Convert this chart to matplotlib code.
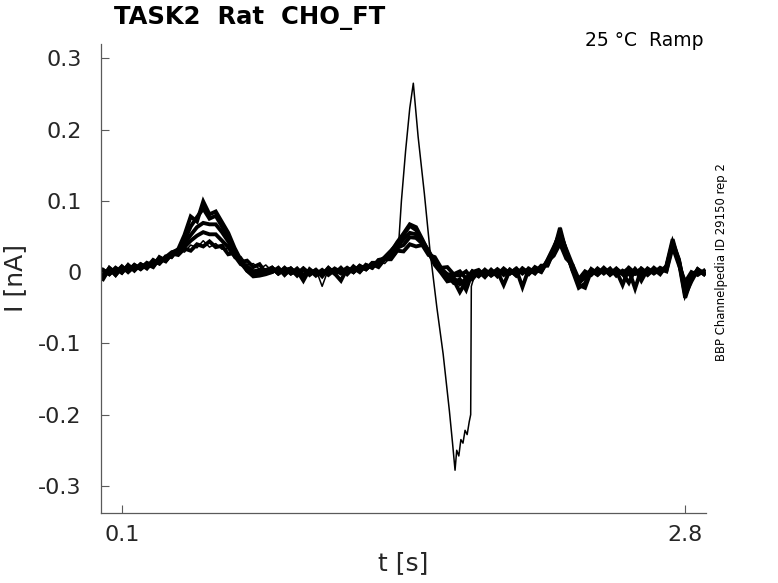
import numpy as np
import matplotlib
matplotlib.use("Agg")
import matplotlib.pyplot as plt

# ---------------- data (currents in pA, converted to nA when drawn) ----------------
# sample times of the small traces [s]
t_start, t_step, n_samp = 0.01, 0.03, 97
T = t_start + t_step * np.arange(n_samp)

# mean ramp current profile [pA]
base = [0, 2, 2, 3, 4, 5, 7, 9, 12, 15,
        18, 22, 26, 30, 34, 37, 39, 39, 37, 34,
        29, 24, 19, 14, 10, 7, 5, 3, 2, 1,
        1, 0, 0, 0, 0, 0, 1, 1, 2, 2,
        3, 4, 6, 8, 11, 15, 20, 26, 32, 37,
        39, 34, 26, 18, 11, 5, 1, -2, -3, -3,
        -2, -2, -1, -1, 0, 0, 0, 1, 1, 2,
        4, 12, 25, 36, 22, 8, -4, -2, 0, 0,
        1, 1, 0, 0, 1, 1, 0, 0, 1, 2,
        5, 32, 12, -8, -3, 0, 0]

# per-sweep deviations from the mean profile [pA]
dev_a = [-4, 3, -6, 4, -2, 5, -3, 2, -5, 4,
         -3, 4, -2, 3, -4, 2, -3, 4, -2, 3,
         -4, 3, -5, 2, -3, 4, -6, 3, -4, 5,
         -3, 2, -12, 4, -3, 3, -5, 2, -4, 3,
         -3, 4, -2, 3, -4, 3, -2, 4, -3, 2,
         -3, 4, -2, 3, -5, 2, -4, 3, -6, 4,
         -3, 5, -4, 2, -18, 3, -4, 4, -3, 2,
         -4, 3, -2, 4, -3, 2, -6, 3, -4, 5,
         -3, 4, -5, 2, -4, 3, -12, 4, -3, 2,
         -4, 3, -2, -6, 3, -4, 2]
dev_b = [3, -5, 4, -3, 5, -2, 4, -4, 3, -3,
         4, 0, 6, 5, 10, 14, 17, 14, 16, 10,
         6, -1, -8, -6, -9, -4, -2, 3, -4, 2,
         4, -3, 5, -2, 3, -6, 4, -3, -14, 3,
         -3, 5, -2, 4, 1, 5, 3, 8, 6, 12,
         9, 6, 2, -3, -6, -8, -5, -3, 4, -7,
         3, -5, 4, -3, 5, -2, 4, -22, 3, -4,
         4, -2, 6, 8, 4, -3, -12, -4, 3, -3,
         4, -5, 3, -2, 5, -3, 4, -4, 3, -2,
         3, 6, 4, -14, -5, 3, -3]
dev_c = [-8, 4, -3, 5, -4, 3, -2, 4, -3, 5,
         -2, 4, 3, 10, 18, 26, 30, 28, 30, 22,
         14, 4, -6, -12, -14, -10, -6, -3, 3, -4,
         3, -5, 4, -3, 2, -4, 5, -3, 4, -5,
         3, -4, 4, -2, 5, 3, 7, 10, 14, 18,
         14, 8, 2, -5, -10, -12, -9, -15, -6, 3,
         -4, 5, -3, 4, -4, 3, -5, 4, -3, 2,
         -3, 5, 10, 18, 10, 2, -14, -20, 2, -4,
         3, -4, 5, -3, 2, -24, 4, -3, 5, -3,
         2, 10, 6, -20, -8, 4, -3]
dev_d = [2, -5, 3, -4, 6, -3, 4, -2, 5, -3,
         3, 6, 4, 14, 30, 40, 50, 36, 42, 30,
         20, 6, -4, -10, -12, -8, -5, 3, -4, 4,
         -3, 5, -4, 3, -5, 2, -3, 4, -2, 4,
         -3, 4, -2, 5, 2, 6, 10, 14, 20, 28,
         20, 10, 4, -4, -8, -10, -16, -8, -22, 3,
         5, -3, 4, -5, 3, -2, 5, -3, 4, -3,
         5, -3, 4, 26, 6, -5, -10, -6, 4, -3,
         5, -3, 4, -2, -16, 3, -4, 5, -2, 4,
         -3, 8, 4, -24, -10, 3, -2]
dev_e = [-10, 3, -6, 4, -3, 5, -2, 3, -4, 6,
         -2, 5, 6, 22, 44, 34, 60, 42, 48, 36,
         26, 10, -2, -12, -16, -12, -8, -3, 4, -5,
         4, -3, 5, -4, 3, -5, 4, -3, 2, -4,
         5, -3, 4, -2, 6, 4, 8, 16, 22, 30,
         24, 12, 2, -8, -12, -18, -12, -26, -10, 4,
         -3, 4, -2, 5, -3, 3, -4, 2, -4, 5,
         -2, 4, 8, 20, 8, -6, -18, -14, 4, -2,
         3, -4, 2, -18, 4, -3, 5, -2, 3, -5,
         4, 14, 2, -28, -6, 4, -2]

# sweep with the large transient: before (samples 0-46), transient, after (samples 60-96)
big_pre_dev = [5, -3, 4, -6, 3, -2, 5, -4, 2, -3,
               4, -3, 6, -2, 4, -3, 5, -4, 3, -2,
               4, -5, 3, -4, 2, -3, 5, -2, 3, -6,
               2, -4, 5, -3, 4, -20, 3, -2, 4, -3,
               2, -4, 3, -2, 4, -3, 2]
big_mid_t = [1.41, 1.425, 1.44, 1.46, 1.48, 1.497, 1.52, 1.55, 1.577, 1.61,
             1.64, 1.67, 1.685, 1.697, 1.705, 1.715, 1.725, 1.735, 1.745, 1.755,
             1.765, 1.772, 1.775, 1.79]
big_mid_v = [24, 32, 100, 170, 230, 265, 190, 110, 30, -50,
             -115, -195, -240, -278, -250, -258, -235, -240, -222, -228,
             -210, -200, -20, -5]
big_post_dev = [-4, 3, -5, 2, -3, 4, -2, 3, -5, 4,
                -3, 2, 5, 10, 4, -8, -14, -3, 3, -4,
                2, -3, 4, -2, 3, -5, 2, -4, 3, -2,
                3, 5, 2, -14, -4, 2, -3]

x_ticks = [0.1, 2.8]
x_ticklabels = ["0.1", "2.8"]
y_ticks = [0.3, 0.2, 0.1, 0, -0.1, -0.2, -0.3]
y_ticklabels = ["0.3", "0.2", "0.1", "0", "-0.1", "-0.2", "-0.3"]

# ---------------- figure ----------------
plt.rcParams['font.family'] = ['DejaVu Sans']
fig = plt.figure(figsize=(7.78, 5.83), dpi=100)
ax = fig.add_axes([0.1298, 0.1201, 0.9075 - 0.1298, 0.9245 - 0.1201])

base_arr = np.array(base, dtype=float)
for dev in (dev_a, dev_b, dev_c, dev_d, dev_e):
    ax.plot(T, (base_arr + np.array(dev)) / 1000.0, color='black', lw=2.8,
            solid_joinstyle='miter')

big_t = np.concatenate([T[:47], big_mid_t, T[60:]])
big_v = np.concatenate([base_arr[:47] + np.array(big_pre_dev), big_mid_v,
                        base_arr[60:] + np.array(big_post_dev)])
ax.plot(big_t, big_v / 1000.0, color='black', lw=1.1)

ax.set_xlim(0, 2.9)
ax.set_ylim(-0.338, 0.32)
ax.set_xticks(x_ticks)
ax.set_xticklabels(x_ticklabels)
ax.set_yticks(y_ticks)
ax.set_yticklabels(y_ticklabels)

grey = '#262626'
for s in ('top', 'right'):
    ax.spines[s].set_visible(False)
for s in ('left', 'bottom'):
    ax.spines[s].set_color('#5a5a5a')
    ax.spines[s].set_linewidth(0.9)
ax.tick_params(direction='in', length=6, width=0.8, color='#5a5a5a',
               labelcolor=grey, labelsize=16)
ax.tick_params(axis='y', pad=14)
ax.tick_params(axis='x', pad=9)

ax.set_xlabel('t [s]', fontsize=18, color=grey, labelpad=4)
ax.set_ylabel('I [nA]', fontsize=18, color=grey, labelpad=8)

fig.text(0.1465, 0.969, 'TASK2  Rat  CHO_FT', fontsize=17.5, fontweight='bold',
         ha='left', va='center', color='black')
fig.text(0.904, 0.931, '25 °C  Ramp', fontsize=13.5, ha='right', va='center',
         color='black')
fig.text(0.928, 0.55, 'BBP Channelpedia ID 29150 rep 2', fontsize=8.4,
         rotation=90, ha='center', va='center', color='black')

fig.savefig('out.png', dpi=100)
